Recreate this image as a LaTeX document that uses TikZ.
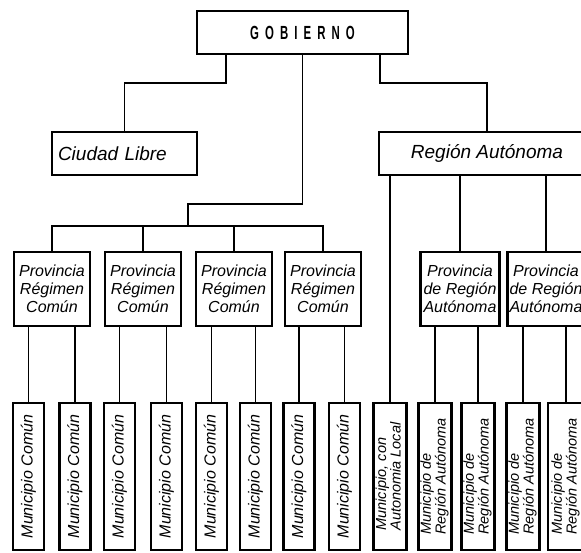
\documentclass[tikz,border=0pt]{standalone}
\usepackage{fontspec}
\usepackage{graphicx}
\setmainfont{Liberation Sans}
\newfontfamily\titulo{Liberation Sans}[FakeStretch=0.6,LetterSpace=32]
\usetikzlibrary{calc}

\newcommand{\vertical}[1]{\rotatebox{90}{#1}}
\newcommand{\vdoble}[2]{\rotatebox{90}{\renewcommand{\arraystretch}{0.95}\begin{tabular}{@{}l@{}}#1\\#2\end{tabular}}}

\begin{document}
\begin{tikzpicture}[x=1pt,y=1pt,
  caja/.style={draw, line width=2.2pt, inner sep=2pt},
  linea/.style={line width=1.7pt},
  gobbox/.style={caja, minimum width=211pt, minimum height=43pt, font=\titulo\bfseries\fontsize{19}{20}\selectfont},
  grande/.style={caja, minimum height=43pt, font=\itshape\fontsize{19}{21}\selectfont},
  provbox/.style={caja, minimum width=76pt, minimum height=74pt, align=center, font=\itshape\fontsize{16}{18}\selectfont},
  munibox/.style={caja, minimum width=31pt, minimum height=147pt, font=\itshape\fontsize{16}{18}\selectfont},
  munibox2/.style={caja, minimum width=33pt, minimum height=147pt, font=\itshape\fontsize{14.5}{14}\selectfont}]
\useasboundingbox[fill=white] (0,0) rectangle (581,-552);

\node[gobbox] (gob) at (302.5,-32.5) {GOBIERNO};
\node[grande, minimum width=145pt, text width=133pt, align=left] (ciudad) at (124.5,-153.5) {Ciudad Libre};
\node[grande, minimum width=216pt] (region) at (487,-153.5) {Región Autónoma};

% provincias regimen comun
\node[provbox] (p1) at ( 52,-289) {Provincia\\Régimen\\Común};
\node[provbox] (p2) at (143,-289) {Provincia\\Régimen\\Común};
\node[provbox] (p3) at (234,-289) {Provincia\\Régimen\\Común};
\node[provbox] (p4) at (323,-289) {Provincia\\Régimen\\Común};
% provincias de region autonoma
\node[provbox, minimum width=79pt] (p5) at (460,-289) {Provincia\\de Región\\Autónoma};
\node[provbox] (p6) at (546,-289) {Provincia\\de Región\\Autónoma};

% municipios
\node[munibox] (m1) at ( 28.5,-476.5) {\vertical{Municipio Común}};
\node[munibox] (m2) at ( 75,-476.5) {\vertical{Municipio Común}};
\node[munibox] (m3) at (119.5,-476.5) {\vertical{Municipio Común}};
\node[munibox] (m4) at (166.5,-476.5) {\vertical{Municipio Común}};
\node[munibox] (m5) at (211.5,-476.5) {\vertical{Municipio Común}};
\node[munibox] (m6) at (255.5,-476.5) {\vertical{Municipio Común}};
\node[munibox] (m7) at (299,-476.5) {\vertical{Municipio Común}};
\node[munibox] (m8) at (344.5,-476.5) {\vertical{Municipio Común}};
\node[munibox2] (m9) at (390,-476.5) {\vdoble{Municipio, con}{Autonomia Local}};
\node[munibox2] (m10) at (435,-476.5) {\vdoble{Municipio de}{Región Autónoma}};
\node[munibox2] (m11) at (478,-476.5) {\vdoble{Municipio de}{Región Autónoma}};
\node[munibox2] (m12) at (523,-476.5) {\vdoble{Municipio de}{Región Autónoma}};
\node[munibox2, minimum width=36pt] (m13) at (566,-476.5) {\vdoble{Municipio de}{Región Autónoma}};

\coordinate (bus) at (188,-226);

% gobierno
\draw[linea] ($(gob.south west)!0.142!(gob.south east)$) -- ++(0,-28) -| (ciudad.north);
\draw[linea] ($(gob.south west)!0.863!(gob.south east)$) -- ++(0,-28) -| (region.north);
\draw[linea] (gob.south) -- ++(0,-149) -| (bus);
\draw[linea] (p1.north) -- (p1.north |- bus) -- (p4.north |- bus) -- (p4.north);
\draw[linea] (p2.north) -- (p2.north |- bus);
\draw[linea] (p3.north) -- (p3.north |- bus);

% region autonoma
\draw[linea] (m9.north) -- (m9.north |- region.south);
\draw[linea] (p5.north) -- (p5.north |- region.south);
\draw[linea] (p6.north) -- (p6.north |- region.south);

% provincia -> municipio
\draw[linea] (m1.north) -- (m1.north |- p1.south);
\draw[linea] (m2.north) -- (m2.north |- p1.south);
\draw[linea] (m3.north) -- (m3.north |- p2.south);
\draw[linea] (m4.north) -- (m4.north |- p2.south);
\draw[linea] (m5.north) -- (m5.north |- p3.south);
\draw[linea] (m6.north) -- (m6.north |- p3.south);
\draw[linea] (m7.north) -- (m7.north |- p4.south);
\draw[linea] (m8.north) -- (m8.north |- p4.south);
\draw[linea] (m10.north) -- (m10.north |- p5.south);
\draw[linea] (m11.north) -- (m11.north |- p5.south);
\draw[linea] (m12.north) -- (m12.north |- p6.south);
\draw[linea] (m13.north) -- (m13.north |- p6.south);

\end{tikzpicture}
\end{document}
